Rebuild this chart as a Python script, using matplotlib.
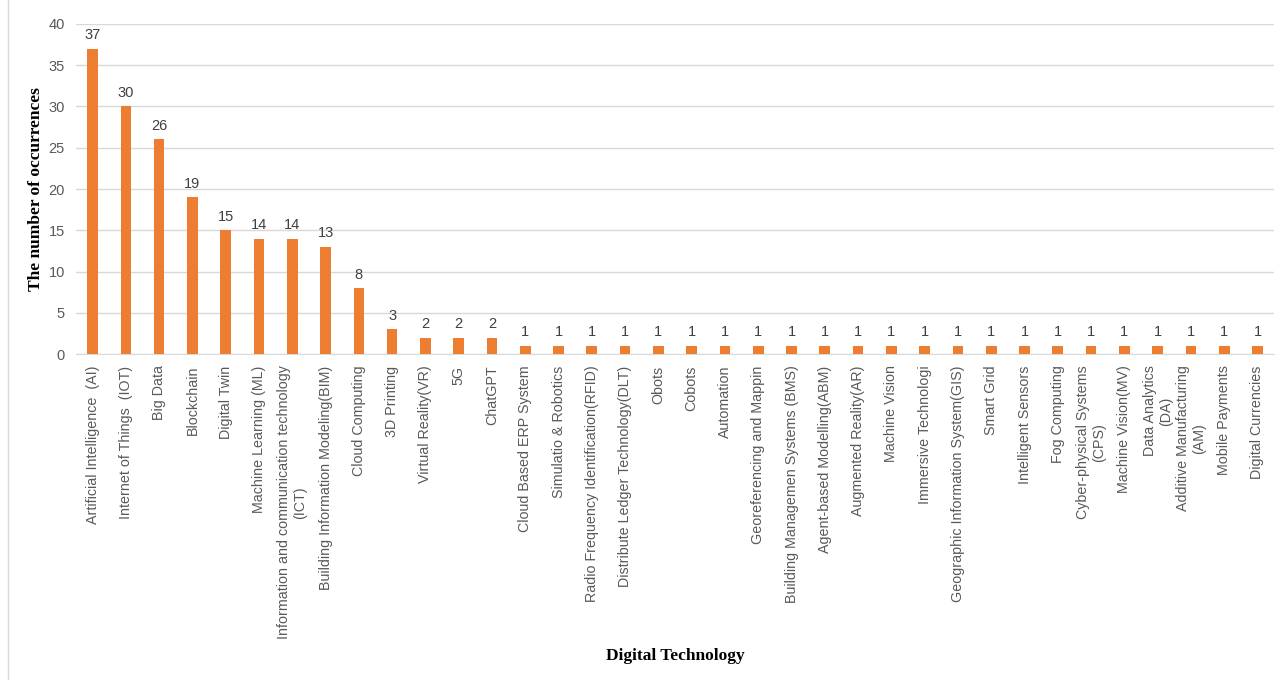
import matplotlib.pyplot as plt
from matplotlib.lines import Line2D

# Data
technologies = [
    'Artificial Intelligence  (AI)', 'Internet of Things  (IOT)', 'Big Data', 'Blockchain',
    'Digital Twin', 'Machine Learning (ML)',
    'Information and communication technology\n(ICT)',
    'Building Information Modeling(BIM)', 'Cloud Computing', '3D Printing',
    'Virtual Reality(VR)', '5G', 'ChatGPT', 'Cloud Based ERP System',
    'Simulatio & Robotics', 'Radio Frequency Identification(RFID)',
    'Distribute Ledger Technology(DLT)', 'Obots', 'Cobots', 'Automation',
    'Georeferencing and Mappin', 'Building Managemen Systems (BMS)',
    'Agent-based Modelling(ABM)', 'Augmented Reality(AR)', 'Machine Vision',
    'Immersive Technologi', 'Geographic Information System(GIS)', 'Smart Grid',
    'Intelligent Sensors', 'Fog Computing', 'Cyber-physical Systems\n(CPS)',
    'Machine Vision(MV)', 'Data Analytics\n(DA)', 'Additive Manufacturing\n(AM)',
    'Mobile Payments', 'Digital Currencies',
]
occurrences = [37, 30, 26, 19, 15, 14, 14, 13, 8, 3, 2, 2, 2, 1, 1, 1, 1, 1, 1, 1,
               1, 1, 1, 1, 1, 1, 1, 1, 1, 1, 1, 1, 1, 1, 1, 1]
y_ticks = [0, 5, 10, 15, 20, 25, 30, 35, 40]

bar_color = '#ED7D31'
text_gray = '#595959'

plt.rcParams['font.family'] = ['Liberation Sans', 'DejaVu Sans']

fig = plt.figure(figsize=(12.87, 6.80), dpi=100)
ax = fig.add_axes([0.059, 0.479, 0.931, 0.486])

x = range(len(technologies))
bars = ax.bar(x, occurrences, width=0.32, color=bar_color, zorder=3)

# value labels above each bar
for xi, v in zip(x, occurrences):
    ax.text(xi, v + 0.8, str(v), ha='center', va='bottom', fontsize=10.5, color='#404040')

ax.set_xlim(-0.5, len(technologies) - 0.5)
ax.set_ylim(0, 40)
ax.set_yticks(y_ticks)
ax.set_yticklabels([str(t) for t in y_ticks], fontsize=10.5, color=text_gray)
ax.set_xticks(list(x))
ax.set_xticklabels(technologies, rotation=90, fontsize=10.3, color=text_gray,
                   ha='center', va='top', multialignment='center')

ax.grid(axis='y', color='#D9D9D9', linewidth=1, zorder=0)
ax.tick_params(axis='both', length=0, pad=8)
for side in ['top', 'right', 'left']:
    ax.spines[side].set_visible(False)
ax.spines['bottom'].set_color('#D9D9D9')

# axis titles placed on the figure
fig.text(0.028, 0.722, 'The number of occurrences', rotation=90, ha='center', va='center',
         fontsize=12.5, fontweight='bold', family='Liberation Serif')
fig.text(0.525, 0.035, 'Digital Technology', ha='center', va='center',
         fontsize=12.5, fontweight='bold', family='Liberation Serif')

# light border line on the left like the reference
fig.add_artist(Line2D([0.0065, 0.0065], [0, 1], color='#D9D9D9', linewidth=1))

plt.savefig('out.png', dpi=100)
